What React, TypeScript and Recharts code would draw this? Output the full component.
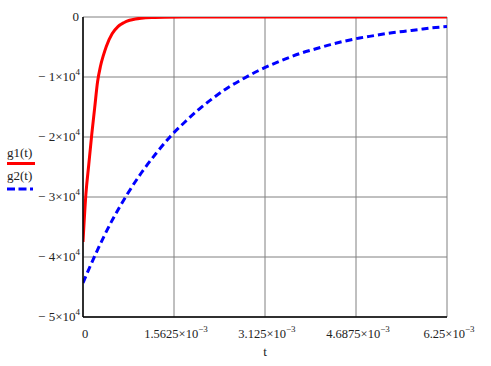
import React from 'react';
import { LineChart, Line, XAxis, YAxis, CartesianGrid } from 'recharts';

// sample times (s) and values
const tRed = [0, 0.00005, 0.0001, 0.00015, 0.0002, 0.00025, 0.0003, 0.00035, 0.0004, 0.0005, 0.0006, 0.0007, 0.0008, 0.0009, 0.001, 0.0012, 0.0014, 0.0017, 0.002, 0.003, 0.004, 0.005, 0.00625];
const g1 = [-37500, -29500, -24500, -19600, -15200, -10800, -8200, -6400, -4900, -2800, -1600, -950, -550, -320, -190, -70, -25, -5, 0, 0, 0, 0, 0];

const tBlue = [0, 0.00025, 0.0005, 0.00075, 0.001, 0.00125, 0.0015, 0.00175, 0.002, 0.00225, 0.0025, 0.00275, 0.003, 0.00325, 0.0035, 0.00375, 0.004, 0.00425, 0.0045, 0.00475, 0.005, 0.00525, 0.0055, 0.00575, 0.006, 0.00625];
const g2 = [-44300, -38800, -33900, -29700, -26000, -22800, -19900, -17500, -15300, -13400, -11700, -10300, -9000, -7900, -6900, -6000, -5300, -4600, -4000, -3500, -3100, -2700, -2400, -2100, -1800, -1600];

const xTicks = [0, 0.0015625, 0.003125, 0.0046875, 0.00625];
const xTickLabels = ['0', '1.5625', '3.125', '4.6875', '6.25'];
const yTicks = [-50000, -40000, -30000, -20000, -10000, 0];
const yTickLabels = ['5', '4', '3', '2', '1', '0'];

const redData = tRed.map((t, i) => ({ t, v: g1[i] }));
const blueData = tBlue.map((t, i) => ({ t, v: g2[i] }));

const FONT = '"Liberation Serif", "Times New Roman", serif';
const TEXT = '#222';

const XTick = (props: any) => {
  const { x, y, payload } = props;
  const i = xTicks.indexOf(payload.value);
  const lab = xTickLabels[i] ?? '';
  if (lab === '0') {
    return (
      <text x={x + 2} y={y + 21} textAnchor="middle" fontFamily={FONT} fontSize={12.5} fill={TEXT}>0</text>
    );
  }
  return (
    <text x={x + 2} y={y + 21} textAnchor="middle" fontFamily={FONT} fontSize={12.5} fill={TEXT}>
      {lab}×10
      <tspan dy={-6} fontSize={9}>−3</tspan>
    </text>
  );
};

const YTick = (props: any) => {
  const { x, y, payload } = props;
  const i = yTicks.indexOf(payload.value);
  const lab = yTickLabels[i] ?? '';
  if (lab === '0') {
    return (
      <text x={x - 4} y={y + 4} textAnchor="end" fontFamily={FONT} fontSize={13} fill={TEXT}>0</text>
    );
  }
  return (
    <text x={x - 3} y={y + 4} textAnchor="end" fontFamily={FONT} fontSize={13} fill={TEXT}>
      − {lab}×10
      <tspan dy={-6} fontSize={9}>4</tspan>
    </text>
  );
};

export default function App() {
  return (
    <div style={{ position: 'absolute', left: 0, top: 0, width: 491, height: 366, background: '#fff' }}>
      <LineChart width={491} height={366} margin={{ top: 17, right: 44, bottom: 0, left: 0 }}>
        <CartesianGrid stroke="#808080" strokeWidth={1} />
        <XAxis
          dataKey="t"
          type="number"
          domain={[0, 0.00625]}
          ticks={xTicks}
          allowDataOverflow
          height={49}
          tickSize={0}
          tickMargin={0}
          tickLine={false}
          axisLine={{ stroke: '#000', strokeWidth: 1.5 }}
          tick={<XTick />}
          interval={0}
          label={{ value: 't', position: 'insideBottom', offset: 10, fontFamily: FONT, fontSize: 13, fill: TEXT }}
        />
        <XAxis xAxisId="top" orientation="top" type="number" domain={[0, 1]} height={0} tick={false} tickLine={false} axisLine={{ stroke: '#000', strokeWidth: 1.5 }} />
        <YAxis
          type="number"
          domain={[-50000, 0]}
          ticks={yTicks}
          allowDataOverflow
          width={83}
          tickSize={0}
          tickMargin={0}
          tickLine={false}
          axisLine={{ stroke: '#000', strokeWidth: 1.5 }}
          tick={<YTick />}
          interval={0}
        />
        <YAxis yAxisId="right" orientation="right" type="number" domain={[0, 1]} width={0} tick={false} tickLine={false} axisLine={{ stroke: '#000', strokeWidth: 1.5 }} />
        <Line data={blueData} dataKey="v" type="monotone" stroke="#0000ff" strokeWidth={3} strokeDasharray="7 4" dot={false} isAnimationActive={false} />
        <Line data={redData} dataKey="v" type="monotone" stroke="#ff0000" strokeWidth={3} dot={false} isAnimationActive={false} />
      </LineChart>
      <svg width={491} height={366} style={{ position: 'absolute', left: 0, top: 0, pointerEvents: 'none' }}>
        <text x={7} y={157} fontFamily={FONT} fontSize={13} fill={TEXT}>g1(t)</text>
        <line x1={7} y1={163.5} x2={35} y2={163.5} stroke="#ff0000" strokeWidth={3} />
        <text x={7} y={180} fontFamily={FONT} fontSize={13} fill={TEXT}>g2(t)</text>
        <line x1={7} y1={189} x2={33} y2={189} stroke="#0000ff" strokeWidth={3} strokeDasharray="8 3.5" />
      </svg>
    </div>
  );
}
